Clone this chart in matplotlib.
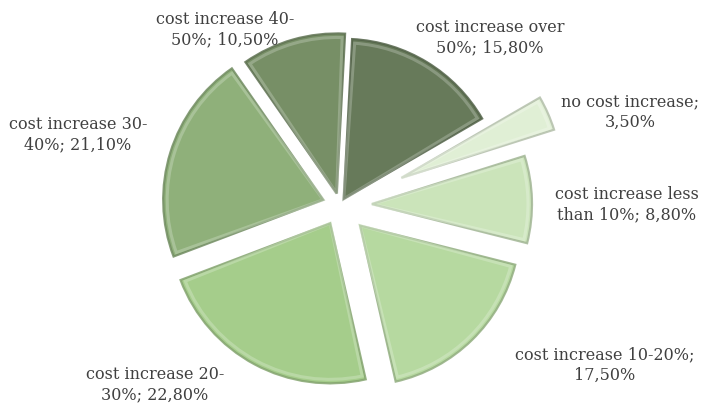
import numpy as np
import matplotlib.pyplot as plt
from matplotlib.patches import Wedge

# cost increase shares, clockwise from the top
categories = ['cost increase over\n50%', 'no cost increase;\n', 'cost increase less\nthan 10%',
              'cost increase 10-20%;\n', 'cost increase 20-\n30%', 'cost increase 30-\n40%',
              'cost increase 40-\n50%']
values = [15.8, 3.5, 8.8, 17.5, 22.8, 21.1, 10.5]
colors = ['#677a5a', '#e0efd5', '#cbe4ba', '#b6d9a0', '#a5cd8b', '#8fb07a', '#778f66']
explode = [0.045, 0.42, 0.2, 0.18, 0.13, 0.11, 0.075]
label_pos = [(490, 371), (630, 297), (627, 204), (605, 44), (155, 24), (78, 274), (225, 379)]

W, H = 717, 409
fig = plt.figure(figsize=(W / 100, H / 100), dpi=100)
ax = fig.add_axes([0, 0, 1, 1])

cx, cy, r = 340, 204, 160
# pie's explode offsets are in data units, so scale by the radius
wedges, _ = ax.pie(values, colors=colors, startangle=87, counterclock=False,
                   explode=[e * r for e in explode], radius=r, center=(cx, cy),
                   wedgeprops=dict(linewidth=0))

# bevel: soft darker rim outside, lighter band just inside
for w, c in zip(wedges, colors):
    base = np.array(plt.matplotlib.colors.to_rgb(c))
    dark = base * 0.8
    light = base + (1 - base) * 0.5
    x0, y0 = w.center
    t1, t2 = w.theta1, w.theta2
    ax.add_patch(Wedge((x0, y0), r, t1, t2, fill=False, edgecolor=dark,
                       linewidth=1.6, alpha=0.85))
    ax.add_patch(Wedge((x0, y0), r - 4, t1 + 1.0, t2 - 1.0, fill=False,
                       edgecolor=light, linewidth=2.2, alpha=0.45))

def fmt(v):
    return f'{v:.2f}'.replace('.', ',') + '%'

for lab, v, (x, y) in zip(categories, values, label_pos):
    if lab.endswith('\n'):
        txt = lab + fmt(v)
    else:
        txt = lab + '; ' + fmt(v)
    ax.text(x, y, txt, ha='center', va='center', fontsize=11.5,
            family='DejaVu Serif', color='#404040', linespacing=1.25)

ax.set_xlim(0, W)
ax.set_ylim(0, H)
ax.set_aspect('equal')
ax.axis('off')
fig.savefig('out.png', dpi=100)
